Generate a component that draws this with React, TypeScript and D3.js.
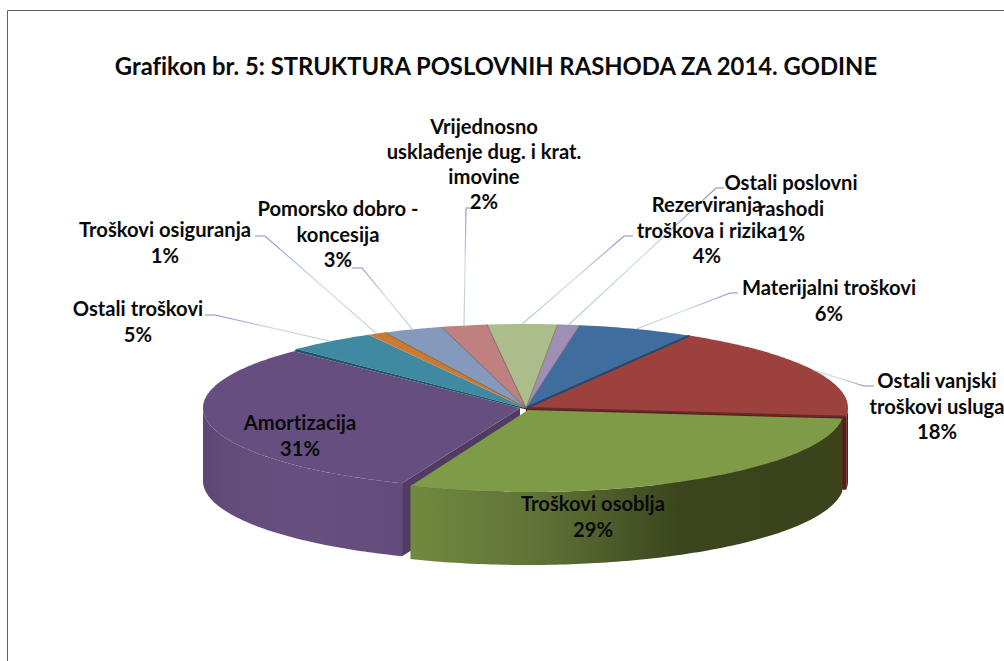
import React from "react";
import * as d3 from "d3";

const titleText = "Grafikon br. 5: STRUKTURA POSLOVNIH RASHODA ZA 2014. GODINE";
const categories = [
  "Materijalni troškovi",
  "Ostali vanjski troškovi usluga",
  "Troškovi osoblja",
  "Amortizacija",
  "Ostali troškovi",
  "Troškovi osiguranja",
  "Pomorsko dobro - koncesija",
  "Vrijednosno usklađenje dug. i krat. imovine",
  "Rezerviranja troškova i rizika",
  "Ostali poslovni rashodi",
];
const values = [5.8, 18.2, 29.4, 31.3, 4.5, 0.9, 3, 2.3, 3.5, 1.1];
const topColors = ["#3f6d9d", "#9c413e", "#7e9b47", "#664f80", "#3f89a3", "#cc7a33", "#8499bc", "#bf8180", "#abbd8a", "#9f8fb5"];
const labelLines = [
  ["Materijalni troškovi"],
  ["Ostali vanjski", "troškovi usluga"],
  ["Troškovi osoblja"],
  ["Amortizacija"],
  ["Ostali troškovi"],
  ["Troškovi osiguranja"],
  ["Pomorsko dobro -", "koncesija"],
  ["Vrijednosno", "usklađenje dug. i krat.", "imovine"],
  ["Rezerviranja", "troškova i rizika"],
  ["Ostali poslovni", "rashodi"],
];

// layout, separate from the data
const W = 1004, H = 661;
const START = (9.6 * Math.PI) / 180;
const DEPTH = 73;
const base = { cx: 526, cy: 408, rx: 322, ry: 84 };
const geomByIndex: Record<number, typeof base> = {
  2: { cx: 528, cy: 410, rx: 316, ry: 82 },
  3: { cx: 520, cy: 408, rx: 317, ry: 81 },
};
const labelPos: [number, number][] = [
  [829, 295], [937, 388], [593, 511], [300, 430], [138, 316], [165, 237],
  [338, 216], [484, 134], [707, 212], [791, 190],
];
const LINE_H = 25.7;
const lineHeights = [LINE_H, LINE_H, LINE_H, LINE_H, LINE_H, LINE_H, LINE_H, 25, LINE_H, LINE_H];
const elbows: ([number, number, number] | null)[] = [
  [730, 293, 738], [864, 386, 874], null, null, [215, 315, 205], [265, 236, 255],
  [362, 268, 352], [466, 208, 470], [624, 236, 633], [716, 188, 724],
];

const pieGen = d3.pie<number>().sort(null).startAngle(START).endAngle(START + 2 * Math.PI);
const arcs = pieGen(values);
const geom = (i: number) => geomByIndex[i] ?? base;
const pt = (g: typeof base, t: number, dy = 0): [number, number] => {
  const sx = d3.scaleLinear().domain([-1, 1]).range([g.cx - g.rx, g.cx + g.rx]);
  const sy = d3.scaleLinear().domain([-1, 1]).range([g.cy + g.ry + dy, g.cy - g.ry + dy]);
  return [sx(Math.sin(t)), sy(Math.cos(t))];
};
const samples = (a: number, b: number) => {
  const n = Math.max(2, Math.ceil(Math.abs(b - a) * 60));
  return d3.range(n + 1).map((k) => a + ((b - a) * k) / n);
};
const line = d3.line<[number, number]>();
const closed = (p: [number, number][]) => (line(p) ?? "") + "Z";

const topPath = (i: number) => {
  const g = geom(i), a = arcs[i];
  return closed([[g.cx, g.cy], ...samples(a.startAngle, a.endAngle).map((t) => pt(g, t))]);
};
const wallPath = (i: number, from: number, to: number) => {
  const g = geom(i);
  const s = samples(from, to);
  return closed([...s.map((t) => pt(g, t)), ...s.slice().reverse().map((t) => pt(g, t, DEPTH))]);
};
const cutPath = (i: number, t: number) => {
  const g = geom(i);
  return closed([[g.cx, g.cy], pt(g, t), pt(g, t, DEPTH), [g.cx, g.cy + DEPTH]]);
};

const font = "Lato, Carlito, sans-serif";
const pi = Math.PI;

export default function App() {
  const purple = arcs[3], green = arcs[2], red = arcs[1], teal = arcs[4];
  const gP = geom(3), gG = geom(2);
  const tealWedge = closed([[gP.cx, gP.cy], [base.cx, base.cy], pt(base, teal.startAngle), pt(gP, purple.endAngle)]);
  const hubGap = closed([[gP.cx, gP.cy], [base.cx, base.cy], [gG.cx, gG.cy]]);
  return (
    <svg width={W} height={H} viewBox={`0 0 ${W} ${H}`} style={{ position: "absolute", left: 0, top: 0, background: "#fff", fontVariantLigatures: "none" }} fontFamily={font}>
      <defs>
        <linearGradient id="gWall" gradientUnits="userSpaceOnUse" x1="411" x2="846" y1="0" y2="0">
          <stop offset="0" stopColor="#71893f" />
          <stop offset="0.3" stopColor="#5f7236" />
          <stop offset="0.62" stopColor="#3a451d" />
          <stop offset="1" stopColor="#3a431c" />
        </linearGradient>
        <linearGradient id="pWall" gradientUnits="userSpaceOnUse" x1="203" x2="400" y1="0" y2="0">
          <stop offset="0" stopColor="#5e4772" />
          <stop offset="0.12" stopColor="#634b79" />
          <stop offset="0.5" stopColor="#674f80" />
          <stop offset="1" stopColor="#634c7b" />
        </linearGradient>
        {elbows.map((e, i) => {
          if (!e) return null;
          const [x0, y0] = pt(geom(i), (arcs[i].startAngle + arcs[i].endAngle) / 2);
          return (
            <linearGradient key={i} id={`lead${i}`} gradientUnits="userSpaceOnUse" x1={x0} y1={y0} x2={e[0]} y2={e[1]}>
              <stop offset="0" stopColor="#b9cbc8" />
              <stop offset="0.5" stopColor="#ccd9f3" />
              <stop offset="1" stopColor="#8290cd" />
            </linearGradient>
          );
        })}
      </defs>

      <path d={`M7.5 ${H}V10.5H${W}`} fill="none" stroke="#606060" strokeWidth={1} />
      <text x={496} y={75} textAnchor="middle" fontSize={23.8} fontWeight={700} fill="#0a0a0a">{titleText}</text>

      {/* outer walls and cut faces */}
      <path d={cutPath(1, red.endAngle)} fill="#5a1d1c" />
      <path d={wallPath(1, pi / 2, red.endAngle)} fill="#5a1d1c" />
      <path d={cutPath(3, purple.startAngle)} fill="#513b62" />
      <path d={wallPath(3, purple.startAngle, (3 * pi) / 2)} fill="url(#pWall)" />
      <path d={wallPath(2, green.startAngle, green.endAngle)} fill="url(#gWall)" />

      {/* top surfaces */}
      {arcs.map((_, i) => (
        <path key={i} d={topPath(i)} fill={topColors[i]} />
      ))}
      <path d={tealWedge} fill="#1f5566" />
      <path d={hubGap} fill="#3c3344" />
      {arcs.map((a, i) => {
        const g = geom(i);
        if (i === 2 || i === 3 || i === 4) return null;
        const col = d3.color(topColors[i])!.darker(1.2).formatHex();
        const [x1, y1] = pt(g, a.endAngle);
        return <line key={i} x1={g.cx} y1={g.cy} x2={x1} y2={y1} stroke={col} strokeWidth={i < 2 ? 2 : 0.8} />;
      })}

      {/* leaders */}
      {elbows.map((e, i) => {
        if (!e) return null;
        const start = pt(geom(i), (arcs[i].startAngle + arcs[i].endAngle) / 2);
        return (
          <polyline key={i} points={`${start[0]},${start[1]} ${e[0]},${e[1]} ${e[2]},${e[1]}`} fill="none" stroke={`url(#lead${i})`} strokeWidth={1.1} />
        );
      })}

      {/* labels */}
      {categories.map((c, i) => {
        const [x, y] = labelPos[i];
        const lines = [...labelLines[i], `${Math.round(values[i])}%`];
        return (
          <text key={c} x={x} y={y} textAnchor="middle" fontSize={20.2} fontWeight={700} fill="#0a0a0a">
            {lines.map((l, k) => (
              <tspan key={k} x={x} y={y + k * lineHeights[i]}>{l}</tspan>
            ))}
          </text>
        );
      })}
    </svg>
  );
}
